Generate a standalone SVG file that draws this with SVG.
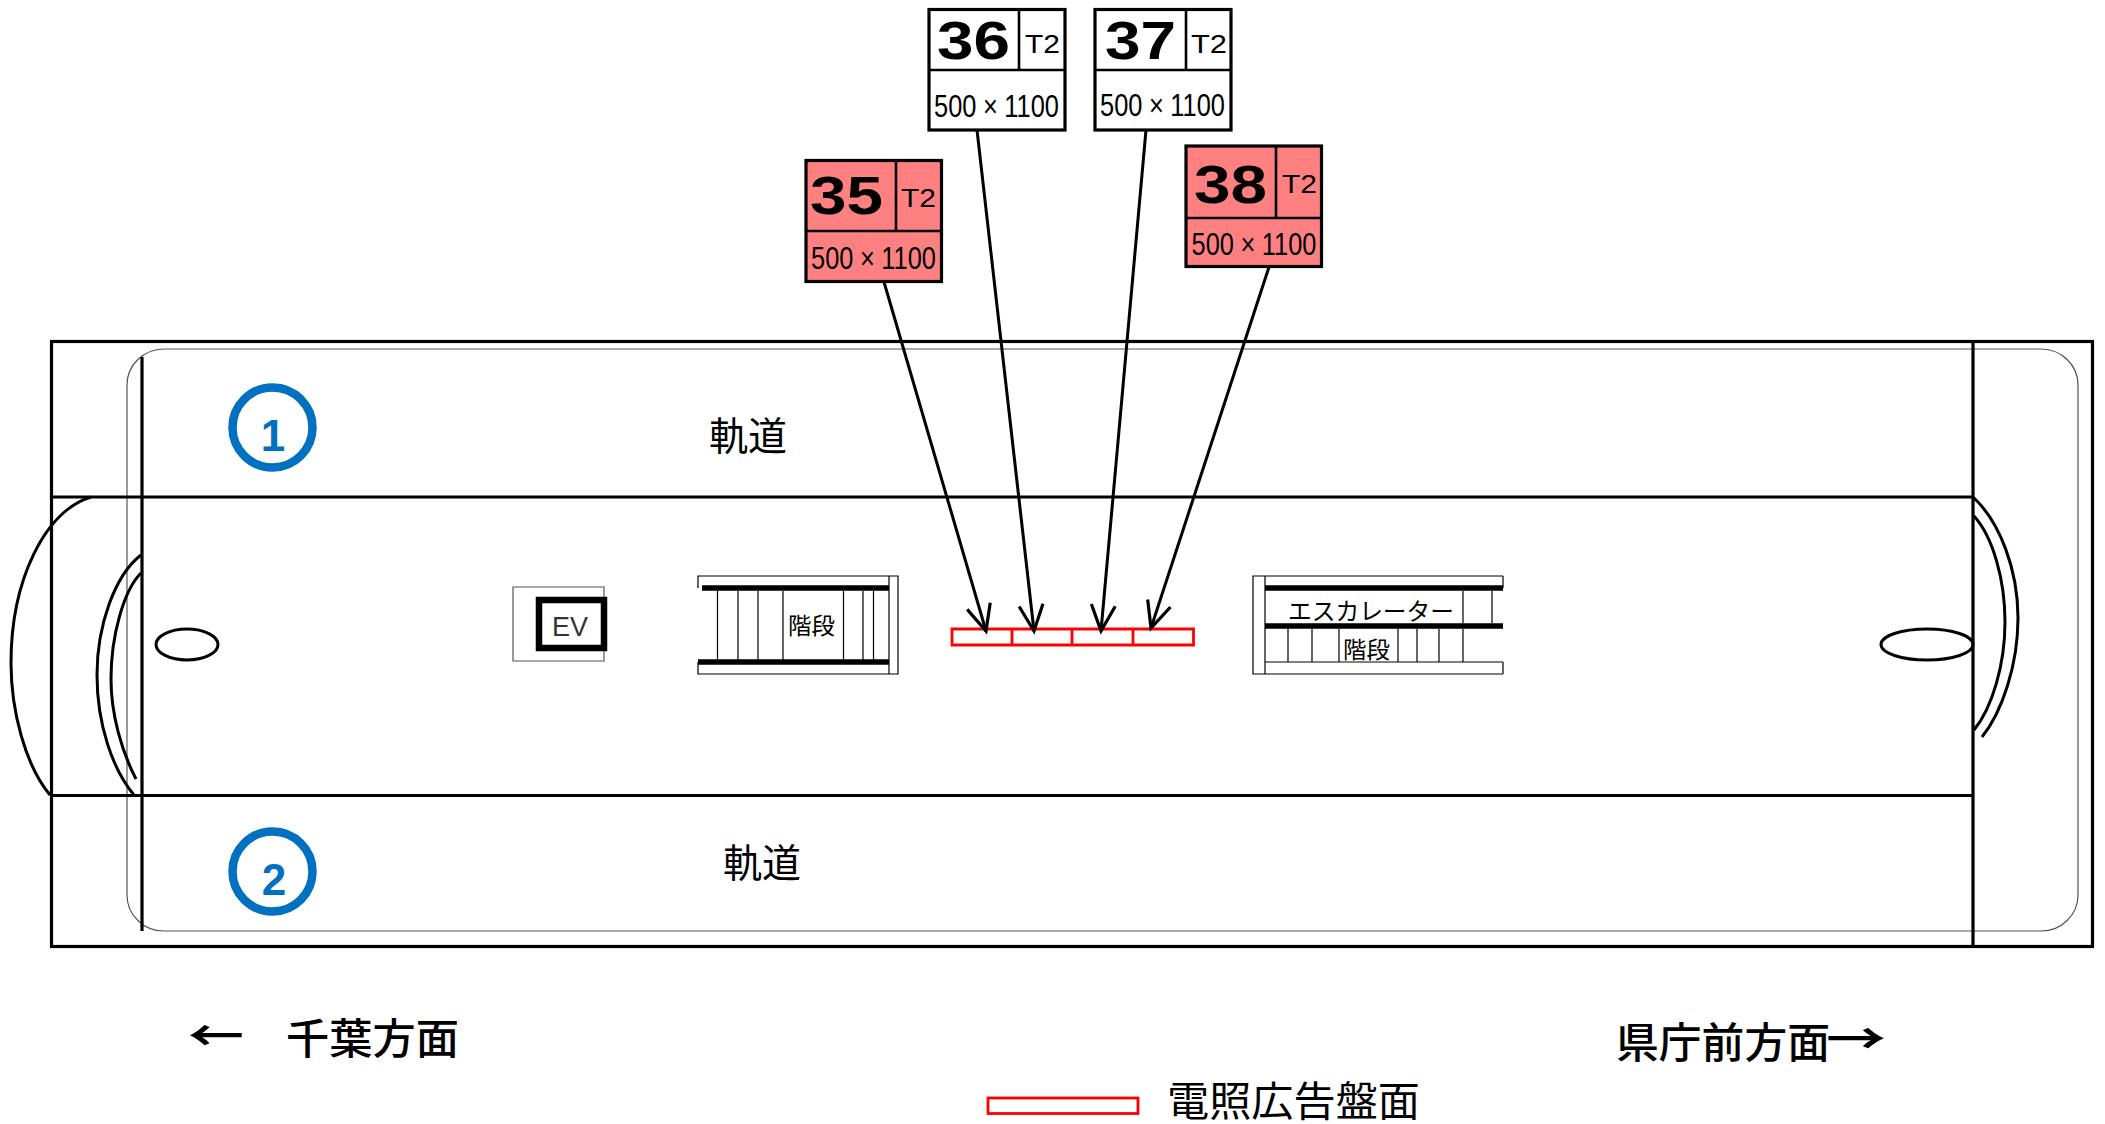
<svg xmlns="http://www.w3.org/2000/svg" width="2105" height="1124" viewBox="0 0 2105 1124">
<style>
.l{fill:none;stroke:#000;stroke-width:3.2}
.a{fill:none;stroke:#000;stroke-width:3}
.t{fill:none;stroke:#000;stroke-width:1.2}
.g{fill:none;stroke:#555;stroke-width:1.2}
.b{fill:none;stroke:#000;stroke-width:5.5}
.r{fill:none;stroke:#f00;stroke-width:2.8}
.box{stroke:#000;stroke-width:3.2;fill:#fff}
.pk{fill:#ff8080}
.div{stroke:#000;stroke-width:2.6;fill:none}
.n{font-family:"Liberation Sans",sans-serif;font-weight:700;font-size:53px;fill:#000}
.s{font-family:"Liberation Sans",sans-serif;font-size:25px;fill:#000}
.z{font-family:"Liberation Sans",sans-serif;font-size:31px;fill:#000}
.j{font-family:"Noto Sans CJK JP",sans-serif;fill:#000}
.c{fill:none;stroke:#0070c0;stroke-width:8.5}
.d{font-family:"Liberation Sans",sans-serif;font-weight:700;font-size:44px;fill:#0070c0;text-anchor:middle}
</style>
<defs>
<marker id="ah" markerUnits="userSpaceOnUse" markerWidth="34" markerHeight="34" refX="30" refY="17" orient="auto" viewBox="0 0 34 34">
<path d="M4 5L30 17L4 29" fill="none" stroke="#000" stroke-width="3.2"/>
</marker>
</defs>
<rect width="2105" height="1124" fill="#fff"/>
<g id="station">
<rect class="g" x="127" y="349" width="1951" height="582" rx="37" ry="36"/>
<rect class="l" x="51.5" y="341.500" width="2041" height="605"/>
<path class="l" d="M51 497H1973M50 795.500H1973M142 357V931M1973 341V947"/>
<path class="a" d="M91 497C45 511 11 580 11 663C11 710 25 765 50 795"/>
<path class="a" d="M141 555C115 575 97 625 97 675C97 725 113 770 134 795"/>
<path class="a" d="M141 573C124 590 111 635 111 679C111 715 122 752 136 779"/>
<path class="a" d="M1973 497C2000 522 2018 570 2018 618C2018 665 2002 712 1982 737"/>
<path class="a" d="M1974 516C1993 537 2005 580 2005 622C2005 665 1992 708 1974 730"/>
<ellipse class="a" cx="187" cy="644.500" rx="31" ry="15.500"/>
<ellipse class="a" cx="1927" cy="644.500" rx="46" ry="15.500"/>
</g>
<g id="track-1"><text class="j" x="709" y="450" font-size="39" textLength="78" lengthAdjust="spacingAndGlyphs">軌道</text></g>
<g id="track-2"><text class="j" x="723" y="877" font-size="39" textLength="78" lengthAdjust="spacingAndGlyphs">軌道</text></g>
<g id="platform-1"><circle class="c" cx="272.500" cy="427.500" r="40"/><text class="d" x="273" y="451">1</text></g>
<g id="platform-2"><circle class="c" cx="272.500" cy="871.500" r="40"/><text class="d" x="274" y="895">2</text></g>
<g id="ev">
<path class="g" d="M604 597V587H513V661H604V651"/>
<rect x="539" y="600" width="65" height="48" fill="#fff" stroke="#000" stroke-width="6.500"/>
<text x="552" y="636" font-family="Liberation Sans,sans-serif" font-size="27" textLength="36" lengthAdjust="spacingAndGlyphs" fill="#333">EV</text>
</g>
<g id="stairs">
<path class="t" d="M698 588V576H898V674H698V662M889 576V674"/>
<path class="b" d="M702 588H889M698 662H889"/>
<path class="t" d="M717.500 591V660M738 591V660M758 591V660M783 591V660M843.500 591V660M863 591V660M873.500 591V660"/>
<text class="j" x="788" y="634" font-size="23" textLength="47" lengthAdjust="spacingAndGlyphs">階段</text>
</g>
<g id="panels">
<path class="r" d="M952 629H1193.500V645H952ZM1012 629V645M1072 629V645M1133 629V645"/>
</g>
<g id="escalator">
<path class="t" d="M1265 576H1503M1265 674H1503M1503 576V588M1503 662V674M1253 576H1265V674H1253ZM1265 662H1503"/>
<path class="b" d="M1265 588H1503M1265 626H1503"/>
<path class="t" d="M1463 591V623M1492 591V623M1288 629V662M1312 629V662M1339 629V662M1398 629V662M1417 629V662M1439 629V662M1463 629V662"/>
<text class="j" x="1288" y="620" font-size="24" textLength="166" lengthAdjust="spacingAndGlyphs">エスカレーター</text>
<text class="j" x="1343" y="658" font-size="23" textLength="47" lengthAdjust="spacingAndGlyphs">階段</text>
</g>
<g id="panel-35">
<rect class="box pk" x="806" y="160.500" width="135.500" height="121"/>
<path class="div" d="M896 160V231M806 231H941"/>
<text class="n" x="810" y="214" textLength="73" lengthAdjust="spacingAndGlyphs">35</text>
<text class="s" x="901" y="207" textLength="35" lengthAdjust="spacingAndGlyphs">T2</text>
<text class="z" transform="translate(811 269) scale(.82 1)" dx="0 0 0 8 8 0 0 0">500×1100</text>
</g>
<g id="panel-36">
<rect class="box" x="929" y="9.500" width="136" height="120.500"/>
<path class="div" d="M1019 9V70M929 70H1065"/>
<text class="n" x="937" y="59" textLength="73" lengthAdjust="spacingAndGlyphs">36</text>
<text class="s" x="1025" y="53" textLength="35" lengthAdjust="spacingAndGlyphs">T2</text>
<text class="z" transform="translate(934 117) scale(.82 1)" dx="0 0 0 8 8 0 0 0">500×1100</text>
</g>
<g id="panel-37">
<rect class="box" x="1095" y="9.500" width="136" height="120.500"/>
<path class="div" d="M1186 9V70M1095 70H1231"/>
<text class="n" x="1105" y="59" textLength="71" lengthAdjust="spacingAndGlyphs">37</text>
<text class="s" x="1191" y="53" textLength="36" lengthAdjust="spacingAndGlyphs">T2</text>
<text class="z" transform="translate(1100 116) scale(.82 1)" dx="0 0 0 8 8 0 0 0">500×1100</text>
</g>
<g id="panel-38">
<rect class="box pk" x="1186" y="146" width="135.500" height="120.500"/>
<path class="div" d="M1276 146V218M1186 218H1321"/>
<text class="n" x="1194" y="203" textLength="73" lengthAdjust="spacingAndGlyphs">38</text>
<text class="s" x="1282" y="193" textLength="35" lengthAdjust="spacingAndGlyphs">T2</text>
<text class="z" transform="translate(1191.500 255) scale(.82 1)" dx="0 0 0 8 8 0 0 0">500×1100</text>
</g>
<g id="connectors" fill="none" stroke="#000" stroke-width="3">
<path d="M884 282L986 631" marker-end="url(#ah)"/>
<path d="M977 130L1034 631" marker-end="url(#ah)"/>
<path d="M1146 130L1101 631" marker-end="url(#ah)"/>
<path d="M1269 267L1151 628" marker-end="url(#ah)"/>
</g>
<g id="direction-chiba">
<text class="j" x="188" y="1051" font-size="42" font-weight="700" textLength="56" lengthAdjust="spacingAndGlyphs">←</text>
<text class="j" x="286" y="1054" font-size="42" font-weight="500" textLength="173" lengthAdjust="spacingAndGlyphs">千葉方面</text>
</g>
<g id="direction-kencho">
<text class="j" x="1616" y="1058" font-size="42" font-weight="500" textLength="214" lengthAdjust="spacingAndGlyphs">県庁前方面</text>
<text class="j" x="1826" y="1054" font-size="42" font-weight="700" textLength="60" lengthAdjust="spacingAndGlyphs">→</text>
</g>
<g id="legend">
<rect class="r" x="988" y="1098" width="150" height="15.500"/>
<text class="j" x="1167" y="1116" font-size="41" textLength="253" lengthAdjust="spacingAndGlyphs">電照広告盤面</text>
</g>
</svg>
